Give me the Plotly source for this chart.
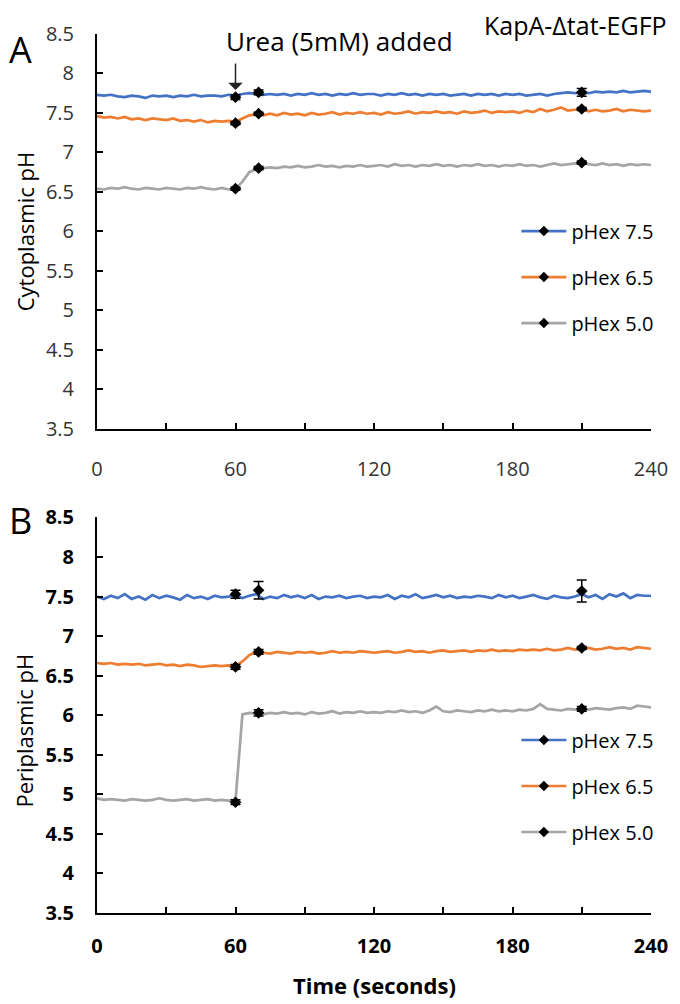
import plotly.graph_objects as go
from plotly.subplots import make_subplots

# ---------------- data ----------------
time_s = list(range(0, 241, 3))  # sampling instants (s)

cyto_75 = [7.73, 7.72, 7.73, 7.71, 7.70, 7.72, 7.71, 7.69, 7.72, 7.71,
           7.72, 7.70, 7.72, 7.71, 7.73, 7.71, 7.72, 7.72, 7.71, 7.73,
           7.72, 7.74, 7.75, 7.74, 7.73, 7.74, 7.73, 7.74, 7.72, 7.74,
           7.73, 7.75, 7.73, 7.74, 7.72, 7.74, 7.73, 7.75, 7.73, 7.74,
           7.74, 7.72, 7.74, 7.73, 7.75, 7.73, 7.74, 7.72, 7.74, 7.73,
           7.74, 7.72, 7.73, 7.74, 7.72, 7.74, 7.73, 7.74, 7.72, 7.74,
           7.73, 7.74, 7.72, 7.73, 7.74, 7.72, 7.74, 7.75, 7.76, 7.75,
           7.76, 7.75, 7.77, 7.76, 7.77, 7.76, 7.78, 7.76, 7.77, 7.78,
           7.77]
cyto_65 = [7.46, 7.44, 7.45, 7.43, 7.45, 7.42, 7.43, 7.41, 7.43, 7.42,
           7.41, 7.43, 7.40, 7.41, 7.39, 7.41, 7.38, 7.40, 7.39, 7.40,
           7.39, 7.43, 7.47, 7.48, 7.47, 7.49, 7.47, 7.50, 7.48, 7.49,
           7.47, 7.50, 7.48, 7.49, 7.51, 7.48, 7.50, 7.49, 7.51, 7.49,
           7.50, 7.48, 7.51, 7.49, 7.50, 7.52, 7.49, 7.51, 7.50, 7.52,
           7.50, 7.51, 7.49, 7.52, 7.50, 7.51, 7.53, 7.50, 7.52, 7.51,
           7.52, 7.50, 7.53, 7.51, 7.55, 7.52, 7.54, 7.57, 7.53, 7.54,
           7.55, 7.52, 7.54, 7.52, 7.53, 7.55, 7.52, 7.54, 7.53, 7.52,
           7.53]
cyto_50 = [6.54, 6.53, 6.55, 6.54, 6.56, 6.54, 6.53, 6.55, 6.54, 6.53,
           6.55, 6.54, 6.53, 6.55, 6.54, 6.56, 6.54, 6.53, 6.55, 6.53,
           6.54, 6.63, 6.75, 6.79, 6.80, 6.81, 6.80, 6.82, 6.81, 6.83,
           6.81, 6.82, 6.84, 6.82, 6.83, 6.81, 6.83, 6.82, 6.84, 6.82,
           6.83, 6.84, 6.82, 6.85, 6.83, 6.84, 6.82, 6.84, 6.83, 6.85,
           6.83, 6.84, 6.82, 6.84, 6.83, 6.85, 6.83, 6.84, 6.82, 6.84,
           6.83, 6.85, 6.83, 6.84, 6.82, 6.84, 6.86, 6.84, 6.85, 6.86,
           6.87, 6.85, 6.84, 6.86, 6.84, 6.85, 6.83, 6.85, 6.84, 6.85,
           6.84]

peri_75 = [7.50, 7.47, 7.51, 7.48, 7.53, 7.47, 7.50, 7.46, 7.52, 7.48,
           7.51, 7.49, 7.46, 7.52, 7.48, 7.50, 7.47, 7.51, 7.49, 7.50,
           7.52, 7.48, 7.51, 7.53, 7.47, 7.50, 7.48, 7.52, 7.49, 7.51,
           7.48, 7.52, 7.47, 7.50, 7.49, 7.51, 7.48, 7.50, 7.51, 7.48,
           7.50, 7.49, 7.52, 7.47, 7.51, 7.49, 7.53, 7.48, 7.50, 7.52,
           7.49, 7.51, 7.48, 7.50, 7.49, 7.51, 7.50, 7.48, 7.52, 7.49,
           7.51, 7.48, 7.50, 7.52, 7.49, 7.47, 7.51, 7.49, 7.48, 7.50,
           7.53, 7.49, 7.52, 7.47, 7.53, 7.50, 7.54, 7.48, 7.52, 7.51,
           7.51]
peri_65 = [6.66, 6.65, 6.66, 6.64, 6.65, 6.64, 6.65, 6.63, 6.64, 6.65,
           6.63, 6.64, 6.62, 6.64, 6.63, 6.61, 6.62, 6.63, 6.62, 6.63,
           6.62, 6.68, 6.76, 6.80, 6.79, 6.78, 6.80, 6.79, 6.78, 6.80,
           6.79, 6.80, 6.78, 6.79, 6.81, 6.79, 6.80, 6.79, 6.81, 6.80,
           6.79, 6.80, 6.81, 6.79, 6.80, 6.82, 6.80, 6.81, 6.79, 6.81,
           6.82, 6.80, 6.81, 6.82, 6.80, 6.82, 6.81, 6.83, 6.81, 6.82,
           6.81, 6.83, 6.82, 6.83, 6.82, 6.84, 6.82, 6.83, 6.85, 6.83,
           6.84, 6.85, 6.83, 6.84, 6.86, 6.84, 6.85, 6.83, 6.86, 6.85,
           6.84]
peri_50 = [4.95, 4.93, 4.94, 4.93, 4.92, 4.94, 4.93, 4.92, 4.93, 4.95,
           4.93, 4.92, 4.93, 4.94, 4.92, 4.93, 4.94, 4.92, 4.93, 4.92,
           4.92, 6.01, 6.03, 6.02, 6.01, 6.03, 6.02, 6.04, 6.02, 6.03,
           6.01, 6.04, 6.02, 6.03, 6.05, 6.02, 6.04, 6.03, 6.05, 6.03,
           6.04, 6.03, 6.05, 6.04, 6.06, 6.04, 6.05, 6.03, 6.06, 6.11,
           6.05, 6.04, 6.06, 6.05, 6.04, 6.06, 6.05, 6.07, 6.05, 6.06,
           6.05, 6.07, 6.06, 6.08, 6.14, 6.08, 6.07, 6.06, 6.08, 6.07,
           6.08, 6.07, 6.09, 6.08, 6.07, 6.09, 6.10, 6.08, 6.12, 6.11,
           6.10]

marker_t = [60, 70, 210]
cyto_pts = {"pHex 7.5": ([7.70, 7.76, 7.76], [0.03, 0.03, 0.05]),
            "pHex 6.5": ([7.37, 7.49, 7.55], [0.02, 0.02, 0.02]),
            "pHex 5.0": ([6.54, 6.80, 6.87], [0.02, 0.02, 0.02])}
peri_pts = {"pHex 7.5": ([7.53, 7.58, 7.57], [0.05, 0.11, 0.14]),
            "pHex 6.5": ([6.61, 6.80, 6.85], [0.03, 0.03, 0.02]),
            "pHex 5.0": ([4.90, 6.03, 6.08], [0.03, 0.04, 0.03])}

series_names = ["pHex 7.5", "pHex 6.5", "pHex 5.0"]
colors = {"pHex 7.5": "#4472C4", "pHex 6.5": "#ED7D31", "pHex 5.0": "#A5A5A5"}

x_ticks = [0, 30, 60, 90, 120, 150, 180, 210, 240]
x_labels = ["0", "", "60", "", "120", "", "180", "", "240"]
y_ticks = [3.5, 4, 4.5, 5, 5.5, 6, 6.5, 7, 7.5, 8, 8.5]
y_labels = ["3.5", "4", "4.5", "5", "5.5", "6", "6.5", "7", "7.5", "8", "8.5"]

# ---------------- figure ----------------
FONT = "Open Sans"
fig = make_subplots(rows=2, cols=1)

panels = [
    (1, {"pHex 7.5": cyto_75, "pHex 6.5": cyto_65, "pHex 5.0": cyto_50}, cyto_pts, "legend"),
    (2, {"pHex 7.5": peri_75, "pHex 6.5": peri_65, "pHex 5.0": peri_50}, peri_pts, "legend2"),
]
for row, traces, pts, leg in panels:
    for name in series_names:
        fig.add_trace(go.Scatter(x=time_s, y=traces[name], mode="lines",
                                 line=dict(color=colors[name], width=2.7),
                                 showlegend=False, hoverinfo="skip"), row=row, col=1)
    for name in series_names:
        yv, ev = pts[name]
        fig.add_trace(go.Scatter(x=marker_t, y=yv, mode="markers",
                                 marker=dict(symbol="diamond", color="black", size=9),
                                 error_y=dict(type="data", array=ev, color="black",
                                              thickness=1.5, width=5),
                                 showlegend=False), row=row, col=1)
    for i, name in enumerate(series_names):
        fig.add_trace(go.Scatter(x=[None], y=[None], mode="lines+markers", name=name,
                                 line=dict(color=colors[name], width=2.7),
                                 marker=dict(symbol="diamond", color="black", size=8),
                                 legend=leg, legendgroup=f"{leg}{i}"), row=row, col=1)

axis_common = dict(showline=True, linecolor="black", linewidth=2, ticks="inside",
                   ticklen=6, tickwidth=1.5, tickcolor="black", showgrid=False,
                   zeroline=False, mirror=False)

top_dom = [0.551, 1.0]
bot_dom = [0.0, 0.45]

fig.update_xaxes(**axis_common, range=[0, 240], tickvals=x_ticks, ticktext=x_labels)
fig.update_yaxes(**axis_common, range=[3.5, 8.5], tickvals=y_ticks, ticktext=y_labels,
                 ticklabelstandoff=17)
fig.update_xaxes(row=1, col=1, ticklabelstandoff=21,
                 tickfont=dict(family=FONT, size=20, color="#333333"))
fig.update_yaxes(row=1, col=1, domain=top_dom, tickfont=dict(family=FONT, size=20, color="#333333"))
fig.update_xaxes(row=2, col=1, ticklabelstandoff=14,
                 tickfont=dict(family=FONT, size=20, color="black", weight="bold"))
fig.update_yaxes(row=2, col=1, domain=bot_dom, tickfont=dict(family=FONT, size=20, color="black", weight="bold"))

legend_common = dict(bgcolor="rgba(0,0,0,0)", font=dict(family=FONT, size=20, color="black"),
                     traceorder="grouped", tracegroupgap=17, itemwidth=45,
                     xanchor="left", yanchor="top")
fig.update_layout(
    width=672, height=996,
    margin=dict(l=89, r=25, t=25, b=91),
    plot_bgcolor="white", paper_bgcolor="white",
    font=dict(family=FONT, color="black"),
    legend=dict(**legend_common, x=0.757, y=0.798),
    legend2=dict(**legend_common, x=0.757, y=0.219),
)

ann = [
    dict(text="Cytoplasmic pH", x=-0.131, y=0.776, textangle=-90, font=dict(size=22)),
    dict(text="Periplasmic pH", x=-0.131, y=0.208, textangle=-90, font=dict(size=22)),
    dict(text="Time (seconds)", x=0.5, y=-0.082, font=dict(size=22, weight="bold")),
    dict(text="A", x=-0.163, y=0.982, font=dict(size=36), xanchor="left"),
    dict(text="B", x=-0.163, y=0.447, font=dict(size=36), xanchor="left"),
    dict(text="KapA-Δtat-EGFP", x=1.032, y=1.01, font=dict(size=25), xanchor="right"),
    dict(text="Urea (5mM) added", x=0.437, y=0.992, font=dict(size=26)),
]
for a in ann:
    fig.add_annotation(xref="paper", yref="paper", showarrow=False,
                       xanchor=a.pop("xanchor", "center"), yanchor="middle", **a)

fig.add_annotation(xref="x", yref="y", x=60, y=7.79, ax=0, ay=-28, text="",
                   showarrow=True, arrowhead=1, arrowsize=1.6, arrowwidth=1.5,
                   arrowcolor="#222222")

fig.write_html("out.html")
